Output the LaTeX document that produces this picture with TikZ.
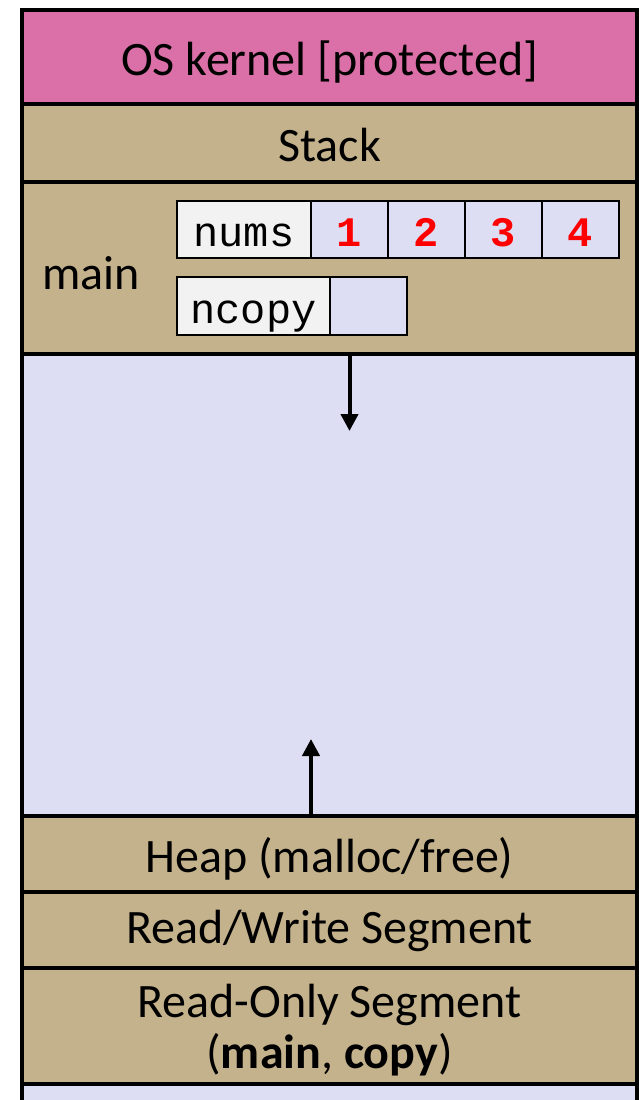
\documentclass[tikz,border=0pt]{standalone}
\usepackage{fontspec}
\setmainfont{Carlito}
\setmonofont{Liberation Mono}
\usepackage{xcolor}
\usetikzlibrary{positioning,arrows.meta}

\definecolor{kernelpink}{RGB}{218,112,167}
\definecolor{segtan}{RGB}{196,178,140}
\definecolor{freelav}{RGB}{221,221,244}
\definecolor{namegray}{RGB}{242,242,242}

\newcommand{\segfont}{\fontsize{48}{51}\selectfont}
\newcommand{\cellfont}{\fontsize{42}{50}\selectfont\ttfamily}

\begin{document}
\begin{tikzpicture}[x=1pt,y=-1pt,
    band/.style={draw,line width=3.5pt,fill=segtan,minimum width=615pt,
      inner sep=0pt,outer sep=0pt,font=\segfont,align=center,
      text height=37pt,text depth=0pt},
    cell/.style={draw,line width=2pt,fill=freelav,minimum width=77pt,
      minimum height=57pt,inner sep=0pt,outer sep=0pt,font=\cellfont,
      text height=36pt,text depth=2pt},
    namecell/.style={cell,fill=namegray},
    val/.style={cell,text=red,font=\cellfont\bfseries},
    growarrow/.style={line width=4pt,-{Triangle[length=17pt,width=17pt]}}]
  \useasboundingbox (0,0) rectangle (639,1100);

  % address space, top to bottom
  \node[band,fill=kernelpink,minimum height=94pt] (kernel) at (329.5,57) {OS kernel [protected]};
  \node[band,minimum height=78pt,below=0pt of kernel] (stack) {Stack};
  \node[band,minimum height=172pt,below=0pt of stack] (frame) {};
  \node[band,fill=freelav,minimum height=462pt,below=0pt of frame] (free) {};
  \node[band,minimum height=76pt,below=0pt of free] (heap) {Heap (malloc/free)};
  \node[band,minimum height=76pt,below=0pt of heap,text height=27pt] (rw) {Read/Write Segment};
  \node[band,minimum height=116pt,below=0pt of rw,text height=84pt] (ro) {Read-Only Segment\\(\textbf{main}, \textbf{copy})};
  \node[band,fill=freelav,minimum height=40pt,below=0pt of ro] (base) {};

  % stack frame of main
  \node[font=\segfont] (mainlbl) at (91,273) {main};
  \node[namecell,minimum width=134pt] (nums) at (244,229.5) {nums};
  \node[val,right=0pt of nums] (n1) {1};
  \foreach \v [remember=\v as \p (initially 1)] in {2,3,4}
    \node[val,right=0pt of n\p] (n\v) {\v};
  \node[namecell,minimum width=153pt,minimum height=58pt] (ncopy) at (253.5,306) {ncopy};
  \node[cell,minimum height=58pt,right=0pt of ncopy] (ncopyval) {};

  % growth directions
  \coordinate (stacktip) at (349.5,431);
  \coordinate (heaptip) at (311,739);
  \draw[growarrow] (frame.south -| stacktip) -- (stacktip);
  \draw[growarrow] (heap.north -| heaptip) -- (heaptip);
\end{tikzpicture}
\end{document}
